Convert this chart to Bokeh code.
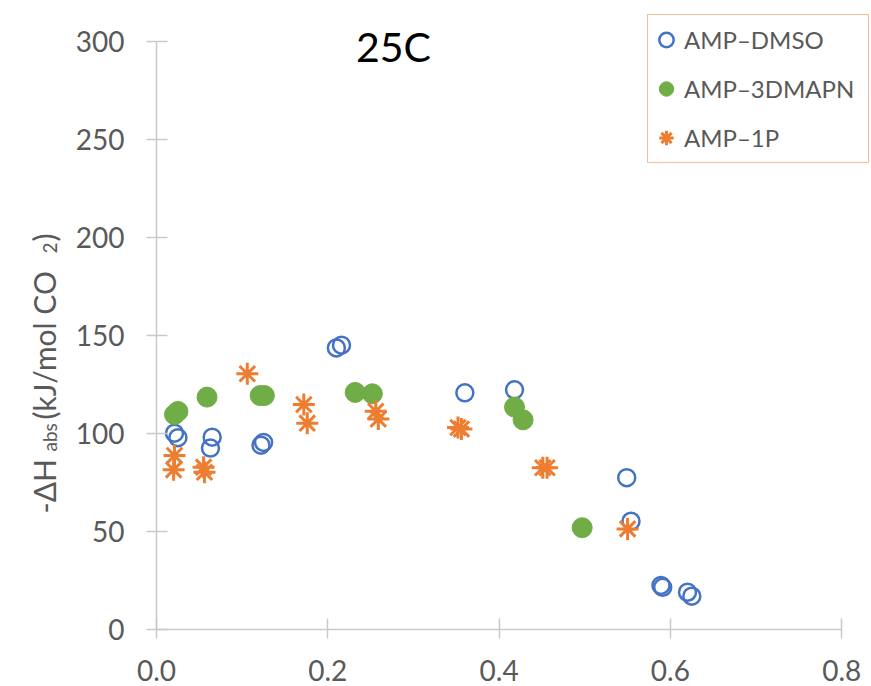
from bokeh.plotting import figure
from bokeh.models import Range1d, Label, Legend, LegendItem
from bokeh.embed import file_html
from bokeh.resources import INLINE
import math

# ---- data ----
dmso_x = [0.021, 0.025, 0.065, 0.063, 0.125, 0.122, 0.210, 0.216, 0.360, 0.418,
          0.549, 0.554, 0.589, 0.591, 0.620, 0.625]
dmso_y = [100.1, 97.8, 98.1, 92.5, 95.4, 94.0, 143.6, 145.0, 120.7, 122.2,
          77.4, 55.2, 22.5, 21.5, 19.0, 17.0]

dmapn_x = [0.021, 0.025, 0.059, 0.121, 0.126, 0.232, 0.252, 0.418, 0.428, 0.497]
dmapn_y = [109.6, 111.2, 118.5, 119.3, 119.3, 120.9, 120.2, 113.4, 106.9, 51.9]

p1_x = [0.021, 0.020, 0.055, 0.056, 0.106, 0.172, 0.176, 0.256, 0.259, 0.352,
        0.356, 0.451, 0.456, 0.550]
p1_y = [88.7, 81.4, 82.8, 80.2, 130.4, 114.7, 105.2, 111.3, 107.3, 103.0,
        102.2, 82.5, 82.5, 51.3]

series_names = ["AMP\u2013DMSO", "AMP\u20133DMAPN", "AMP\u20131P"]
title_text = "25C"
x_ticks = [0.0, 0.2, 0.4, 0.6, 0.8]
x_tick_labels = ["0.0", "0.2", "0.4", "0.6", "0.8"]
y_ticks = [0, 50, 100, 150, 200, 250, 300]

# ---- layout constants (screen px of the reference) ----
W, H = 871, 686
X0_PX = 156          # screen x of x=0
Y0_PX = 629          # screen y of y=0
PX_PER_X = 856.5
PX_PER_Y = 1.961


def dx(sx):
    return (sx - X0_PX) / PX_PER_X


def dy(sy):
    return (Y0_PX - sy) / PX_PER_Y


FONT = "Lato"
BLUE, GREEN, ORANGE = "#4472C4", "#70AD47", "#ED7D31"
GRAY_TXT = "#595959"
AXIS_COL = "#C9C9C9"

p = figure(width=W, height=H, output_backend="svg", toolbar_location=None,
           x_range=Range1d(dx(0), dx(W)), y_range=Range1d(dy(H), dy(0)),
           min_border=0, outline_line_color=None)
p.grid.visible = False
p.background_fill_color = "white"
p.border_fill_color = "white"

r1 = p.scatter(dmso_x, dmso_y, marker="circle", size=17, fill_color=None,
               line_color=BLUE, line_width=2.5)
r2 = p.scatter(dmapn_x, dmapn_y, marker="circle", size=20, fill_color=GREEN,
               line_color=GREEN, line_width=1)
r3 = p.scatter(p1_x, p1_y, marker="asterisk", size=22, line_color=ORANGE,
               line_width=3)

# axes (drawn inside the frame at x=0 / y=0)
for ax in (p.xaxis[0], p.yaxis[0]):
    ax.fixed_location = 0
    ax.axis_line_color = AXIS_COL
    ax.axis_line_width = 1.5
    ax.major_tick_line_color = AXIS_COL
    ax.minor_tick_line_color = AXIS_COL
    ax.major_tick_line_width = 1.5
    ax.minor_tick_line_width = 1.5
    ax.major_label_text_font = FONT
    ax.major_label_text_font_size = "28px"
    ax.major_label_text_color = GRAY_TXT
    ax.axis_label = None

p.xaxis.bounds = (0, 0.8)
p.xaxis.ticker = x_ticks
p.xaxis.ticker.num_minor_ticks = 5
p.xaxis.major_label_overrides = {t: l for t, l in zip(x_ticks, x_tick_labels)}
p.xaxis.major_tick_out = 9
p.xaxis.major_tick_in = 11
p.xaxis.minor_tick_out = 6
p.xaxis.minor_tick_in = 0
p.xaxis.major_label_standoff = 21

p.yaxis.bounds = (0, 300)
p.yaxis.ticker = y_ticks
p.yaxis.ticker.num_minor_ticks = 5
p.yaxis.major_tick_out = 10
p.yaxis.major_tick_in = 11
p.yaxis.minor_tick_out = 8
p.yaxis.minor_tick_in = 0
p.yaxis.major_label_standoff = 22

# title
p.add_layout(Label(x=dx(393), y=dy(46), text=title_text, text_align="center",
                   text_baseline="alphabetic", text_font=FONT,
                   text_font_size="41px", text_color="black"))

# y-axis title with subscripts (rotated)
big, small = "30px", "19px"
parts = [
    ("-\u0394H", 43, 513, big),
    ("abs", 49, 451, small),
    ("(kJ/mol CO", 43, 419, big),
    ("2", 49, 253, small),
    (")", 43, 241, big),
]
for txt, bx, sy, fs in parts:
    p.add_layout(Label(x=dx(bx), y=dy(sy), text=txt, angle=math.pi / 2,
                       text_align="left", text_baseline="alphabetic",
                       text_font=FONT, text_font_size=fs,
                       text_color=GRAY_TXT))

legend = Legend(items=[LegendItem(label=series_names[0], renderers=[r1]),
                       LegendItem(label=series_names[1], renderers=[r2]),
                       LegendItem(label=series_names[2], renderers=[r3])],
                location=(647, H - 163), padding=0,
                glyph_width=36, glyph_height=49, label_standoff=0,
                spacing=0, label_height=49, label_width=184,
                label_text_font=FONT, label_text_font_size="24px",
                label_text_color=GRAY_TXT,
                border_line_color=ORANGE, border_line_width=1.5,
                background_fill_alpha=1.0)
p.add_layout(legend)

open("out.html", "w").write(file_html(p, INLINE))
